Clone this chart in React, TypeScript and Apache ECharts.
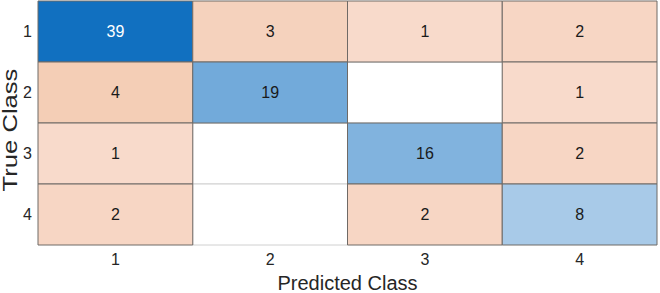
import React, { useEffect, useRef } from "react";
import * as echarts from "echarts";

const predictedClasses = ["1", "2", "3", "4"];
const trueClasses = ["1", "2", "3", "4"];
// counts[trueIndex][predictedIndex]
const counts = [
  [39, 3, 1, 2],
  [4, 19, 0, 1],
  [1, 0, 16, 2],
  [2, 0, 2, 8],
];
const xTitle = "Predicted Class";
const yTitle = "True Class";

const lerp = (a: number[], b: number[], t: number) =>
  `rgb(${a.map((v, i) => Math.round(v + (b[i] - v) * t)).join(",")})`;

function cellColor(v: number, diag: boolean) {
  if (v === 0) return "#ffffff";
  if (diag) return lerp([168, 202, 232], [17, 112, 192], (v - 8) / (39 - 8));
  return lerp([248, 218, 203], [244, 206, 182], (v - 1) / (4 - 1));
}

export default function App() {
  const ref = useRef<HTMLDivElement>(null);
  useEffect(() => {
    if (!ref.current) return;
    const chart = echarts.init(ref.current, undefined, { renderer: "svg" });
    const empty: number[][] = [];
    const filled: number[][] = [];
    counts.forEach((row, r) =>
      row.forEach((v, c) => {
        (v === 0 ? empty : filled).push([c, r, v]);
      })
    );
    const font = "Liberation Sans, Arial, sans-serif";
    chart.setOption({
      animation: false,
      grid: { left: 38, top: 1, right: 3, bottom: 48, outerBoundsMode: "none", containLabel: false },
      graphic: [
        {
          type: "text",
          x: 10,
          y: 130,
          rotation: Math.PI / 2,
          scaleX: 1.28,
          style: {
            text: yTitle,
            font: `20px ${font}`,
            fill: "#262626",
            align: "center",
            verticalAlign: "middle",
          },
        },
      ],
      xAxis: {
        type: "category",
        data: predictedClasses,
        name: xTitle,
        nameLocation: "middle",
        nameGap: 28,
        nameTextStyle: { fontSize: 20, color: "#262626", fontFamily: font },
        axisLine: { show: false },
        axisTick: { show: false },
        axisLabel: { fontSize: 16, color: "#262626", margin: 6, fontFamily: font },
        splitLine: { show: false },
      },
      yAxis: {
        type: "category",
        data: trueClasses,
        inverse: true,
        axisLine: { show: false },
        axisTick: { show: false },
        axisLabel: { fontSize: 16, color: "#262626", margin: 6, fontFamily: font },
        splitLine: { show: false },
      },
      series: [
        {
          type: "custom",
          data: [...empty, ...filled],
          renderItem: (params: any, api: any) => {
            const c = api.value(0);
            const r = api.value(1);
            const v = api.value(2);
            const center = api.coord([c, r]);
            const size = api.size([1, 1]);
            const diag = r === c;
            const x = center[0] - size[0] / 2;
            const y = center[1] - size[1] / 2;
            const children: any[] = [
              {
                type: "rect",
                shape: { x, y, width: size[0], height: size[1] },
                style: {
                  fill: cellColor(v, diag),
                  stroke: v === 0 ? "#d0d0d0" : "#6f6a66",
                  lineWidth: 1,
                },
              },
            ];
            if (v !== 0) {
              children.push({
                type: "text",
                x: center[0],
                y: center[1],
                style: {
                  text: String(v),
                  fill: diag && v > 30 ? "#ffffff" : "#1a1a1a",
                  font: `16px ${font}`,
                  align: "center",
                  verticalAlign: "middle",
                },
              });
            }
            return { type: "group", children };
          },
        },
      ],
    });
    return () => chart.dispose();
  }, []);
  return <div ref={ref} style={{ width: 660, height: 293, position: "absolute", left: 0, top: 0 }} />;
}
